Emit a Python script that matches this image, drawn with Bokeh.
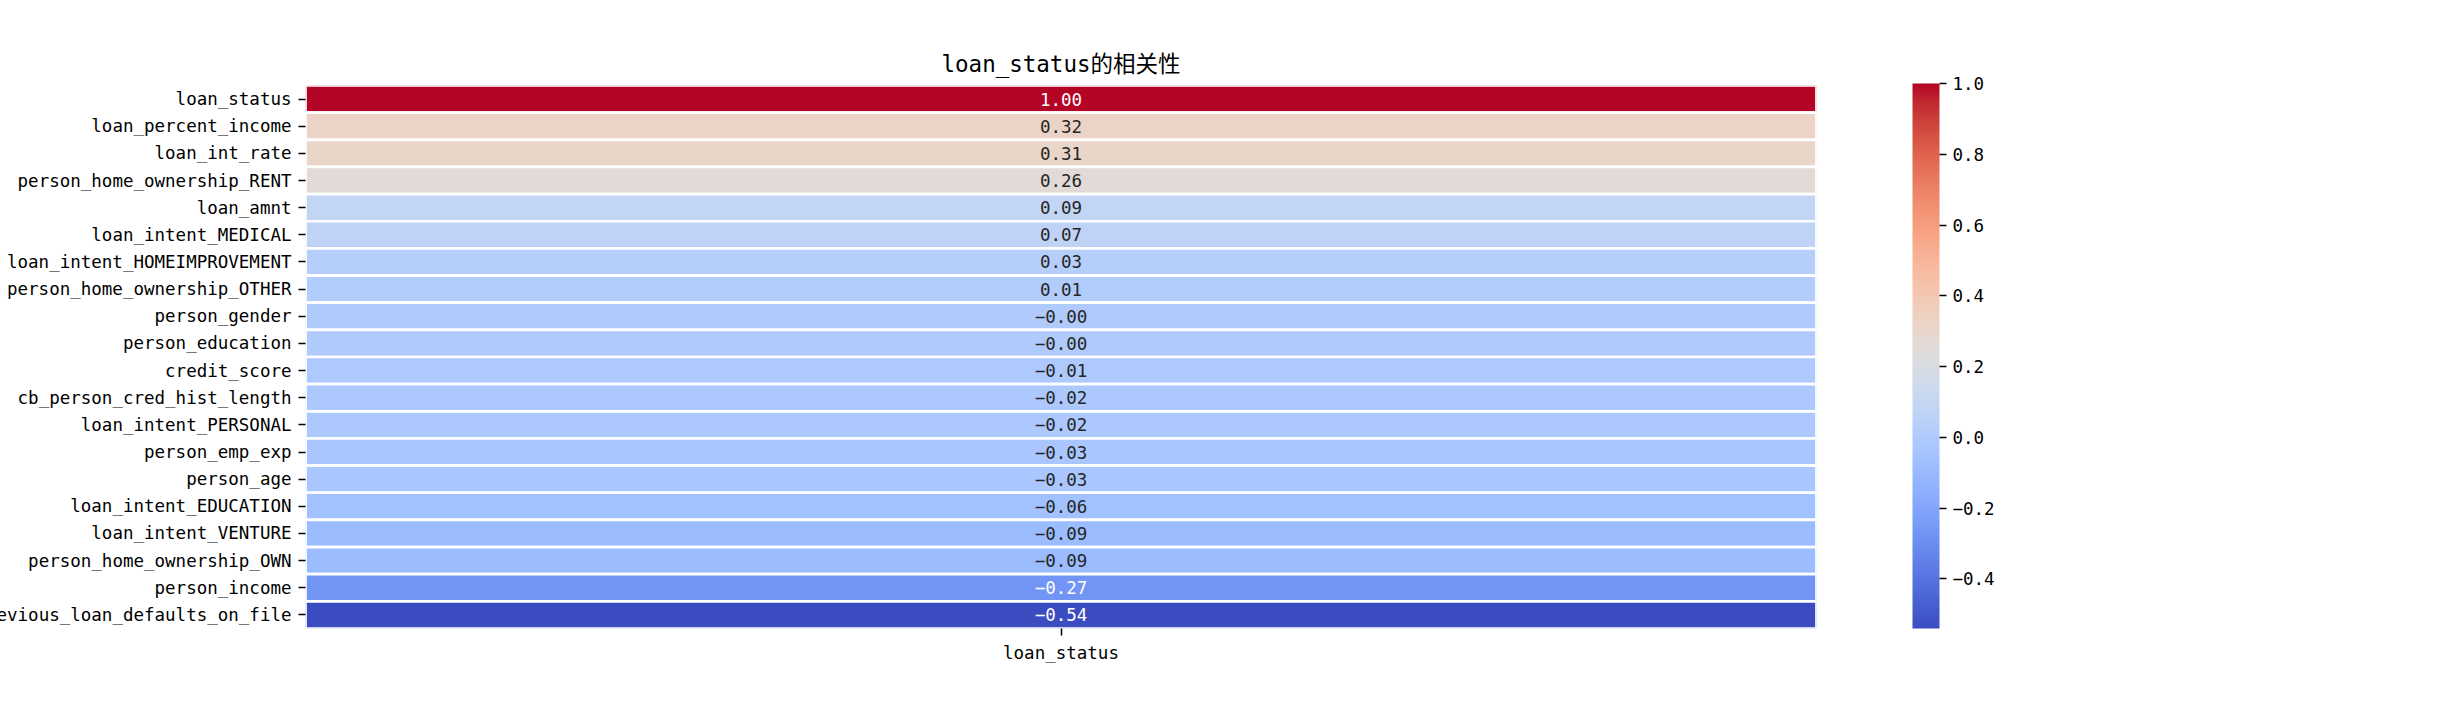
import numpy as np
from bokeh.plotting import figure
from bokeh.models import (ColumnDataSource, LinearColorMapper, ColorBar, FixedTicker,
                          CustomJSTickFormatter, FactorRange)
from bokeh.embed import file_html
from bokeh.resources import INLINE
from bokeh.core.properties import value

# ---------------- data ----------------
features = ["loan_status", "loan_percent_income", "loan_int_rate", "person_home_ownership_RENT",
            "loan_amnt", "loan_intent_MEDICAL", "loan_intent_HOMEIMPROVEMENT",
            "person_home_ownership_OTHER", "person_gender", "person_education", "credit_score",
            "cb_person_cred_hist_length", "loan_intent_PERSONAL", "person_emp_exp", "person_age",
            "loan_intent_EDUCATION", "loan_intent_VENTURE", "person_home_ownership_OWN",
            "person_income", "previous_loan_defaults_on_file"]
corr = [1.00, 0.32, 0.31, 0.26, 0.09, 0.07, 0.03, 0.01, -0.002, -0.004, -0.01, -0.02, -0.02,
        -0.03, -0.03, -0.06, -0.09, -0.09, -0.27, -0.54]
columns = ["loan_status"]
cbar_ticks = [-0.4, -0.2, 0.0, 0.2, 0.4, 0.6, 0.8, 1.0]
title_text = "loan_status的相关性"

# ---------------- coolwarm colormap ----------------
cw_pos = np.linspace(0, 1, 33)
cw_rgb = np.array([
    [59, 76, 192], [68, 90, 204], [77, 104, 215], [87, 117, 225], [98, 130, 234],
    [108, 142, 241], [119, 154, 247], [130, 165, 251], [141, 176, 254], [152, 185, 255],
    [163, 194, 255], [174, 201, 253], [184, 208, 249], [194, 213, 244], [204, 217, 238],
    [213, 219, 230], [221, 221, 221], [229, 216, 209], [236, 211, 197], [241, 204, 185],
    [245, 196, 173], [247, 187, 160], [247, 177, 148], [247, 166, 135], [244, 154, 123],
    [241, 141, 111], [236, 127, 99], [229, 112, 88], [222, 96, 77], [213, 80, 66],
    [203, 62, 56], [192, 40, 47], [180, 4, 38]], dtype=float)
t = np.linspace(0, 1, 256)
pal_rgb = np.stack([np.interp(t, cw_pos, cw_rgb[:, k]) for k in range(3)], axis=1)
palette = ["#%02x%02x%02x" % tuple(int(round(c)) for c in row) for row in pal_rgb]

vmin, vmax = min(corr), max(corr)
mapper = LinearColorMapper(palette=palette, low=vmin, high=vmax)


def lum(rgb):
    c = np.asarray(rgb) / 255.0
    c = np.where(c <= 0.03928, c / 12.92, ((c + 0.055) / 1.055) ** 2.4)
    return 0.2126 * c[0] + 0.7152 * c[1] + 0.0722 * c[2]


text_colors = []
for v in corr:
    idx = int(np.clip((v - vmin) / (vmax - vmin) * 255, 0, 255))
    text_colors.append("#262626" if lum(pal_rgb[idx]) > 0.408 else "#ffffff")

labels = [("%.2f" % v).replace("-", "\u2212") for v in corr]

src = ColumnDataSource(dict(
    col=[columns[0]] * len(features), feat=features, v=corr, lab=labels, tc=text_colors))

FONT = "DejaVu Sans Mono, Noto Sans CJK SC"
FS = "17.5px"

p = figure(x_range=FactorRange(factors=columns, range_padding=0),
           y_range=FactorRange(factors=list(reversed(features)), range_padding=0),
           frame_width=1511, frame_height=543,
           output_backend="svg", toolbar_location=None,
           min_border_top=85, min_border_bottom=60, min_border_left=0, min_border_right=210,
           title=title_text)
p.styles = {"margin-left": "-28px"}

p.rect(x="col", y="feat", width=1, height=1, source=src,
       fill_color={"field": "v", "transform": mapper},
       line_color="white", line_width=2.7)
p.text(x="col", y="feat", text="lab", source=src, text_color="tc",
       text_align="center", text_baseline="middle",
       text_font=value(FONT), text_font_size=FS)

p.title.align = "center"
p.title.text_font = FONT
p.title.text_font_size = "22.5px"
p.title.text_font_style = "normal"
p.title.text_color = "black"
p.title.standoff = 17

for ax in (p.xaxis, p.yaxis):
    ax.axis_line_color = None
    ax.major_tick_out = 7
    ax.major_tick_in = 0
    ax.minor_tick_line_color = None
    ax.major_tick_line_color = "black"
    ax.major_tick_line_width = 1.5
    ax.major_label_text_font = FONT
    ax.major_label_text_font_size = FS
    ax.major_label_text_color = "black"
    ax.major_label_standoff = 7
p.xaxis.major_label_orientation = "horizontal"

p.grid.visible = False
p.outline_line_color = None
p.background_fill_color = "white"

cb = ColorBar(color_mapper=mapper, width=27, height=545,
              location=(96, 0),
              ticker=FixedTicker(ticks=cbar_ticks),
              formatter=CustomJSTickFormatter(code="return tick.toFixed(1).replace('-', '\\u2212');"),
              major_tick_out=7, major_tick_in=0, major_tick_line_color="black",
              major_tick_line_width=1.5, minor_tick_line_color=None,
              major_label_text_font=FONT, major_label_text_font_size=FS,
              major_label_text_color="black", label_standoff=6,
              bar_line_color=None, border_line_color=None,
              margin=0, padding=0)
p.add_layout(cb, "right")

open("out.html", "w").write(file_html(p, INLINE))
